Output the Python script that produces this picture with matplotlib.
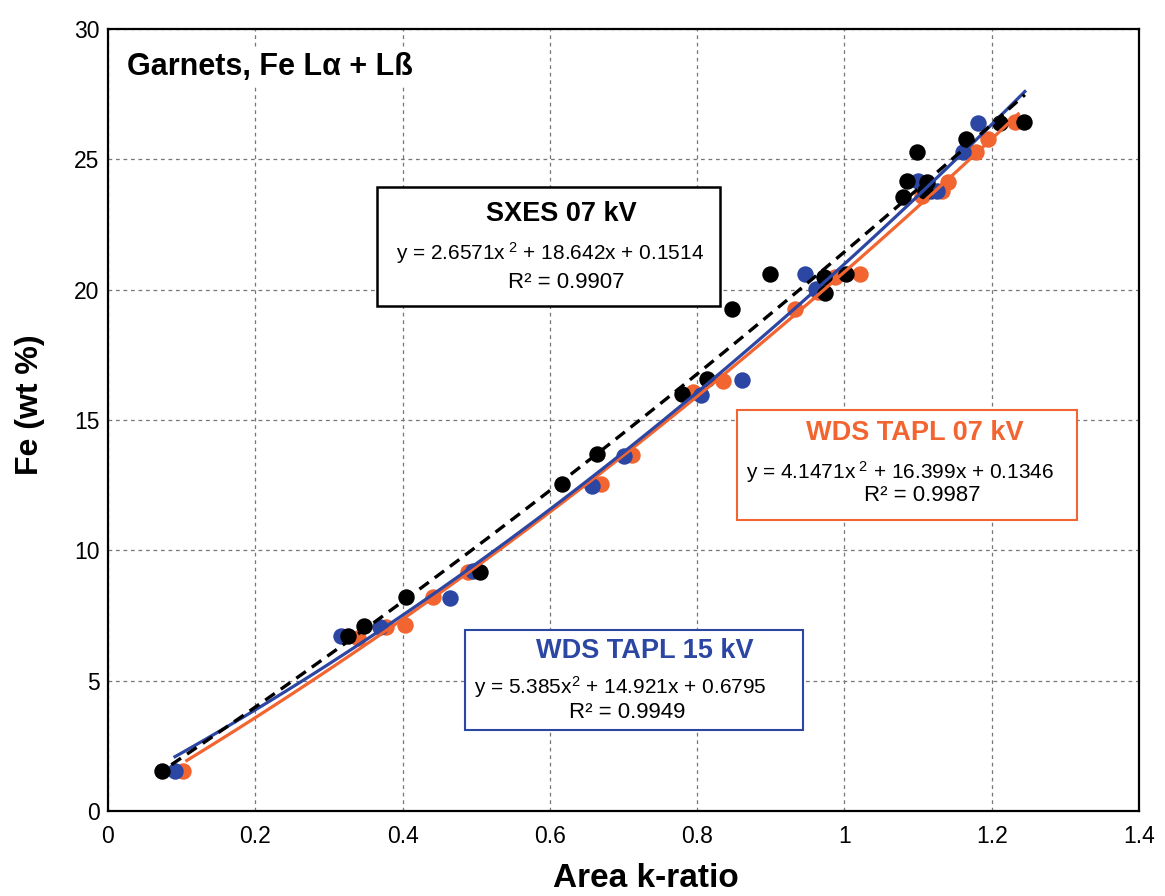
import matplotlib
matplotlib.use("Agg")
import matplotlib.pyplot as plt
import numpy as np
from matplotlib.patches import Rectangle

plt.rcParams['font.family'] = ['Liberation Sans', 'DejaVu Sans']
plt.rcParams['mathtext.fontset'] = 'custom'
plt.rcParams['mathtext.rm'] = 'Liberation Sans'
plt.rcParams['mathtext.it'] = 'Liberation Sans'

# SXES 07 kV (black)
sxes_k = [0.073, 0.326, 0.347, 0.405, 0.505, 0.616, 0.664, 0.779, 0.813, 0.847, 0.899,
          0.972, 0.974, 1.002, 1.080, 1.085, 1.098, 1.112, 1.109, 1.165, 1.211, 1.244]
sxes_fe = [1.55, 6.70, 7.09, 8.20, 9.15, 12.55, 13.69, 16.00, 16.58, 19.27, 20.60,
           20.50, 19.87, 20.60, 23.56, 24.17, 25.27, 24.14, 23.80, 25.80, 26.40, 26.45]

# WDS TAPL 15 kV (blue)
w15_k = [0.091, 0.317, 0.369, 0.464, 0.496, 0.657, 0.700, 0.805, 0.861, 0.947, 0.962,
         1.100, 1.118, 1.126, 1.161, 1.181]
w15_fe = [1.55, 6.70, 7.05, 8.18, 9.20, 12.47, 13.60, 15.96, 16.55, 20.60, 20.04,
          24.17, 23.80, 23.80, 25.30, 26.40]

# WDS TAPL 07 kV (orange)
w07_k = [0.102, 0.340, 0.378, 0.403, 0.441, 0.489, 0.670, 0.711, 0.794, 0.835, 0.933,
         0.964, 0.987, 1.021, 1.105, 1.132, 1.141, 1.179, 1.195, 1.232]
w07_fe = [1.55, 6.64, 7.05, 7.13, 8.20, 9.18, 12.54, 13.67, 16.06, 16.50, 19.27,
          19.90, 20.50, 20.60, 23.60, 23.80, 24.14, 25.30, 25.80, 26.45]

# trendline coefficients as printed on the chart (x^2, x, const)
sxes_coef = [2.6571, 18.642, 0.1514]
w15_coef = [5.385, 14.921, 0.6795]
w07_coef = [4.1471, 16.399, 0.1346]

c_black = '#000000'
c_blue = '#2c46a3'
c_orange = '#f26430'

fig = plt.figure(figsize=(11.65, 8.96), dpi=100)
ax = fig.add_axes([0.0927, 0.0949, 0.8850, 0.8727])

ax.scatter(w07_k, w07_fe, s=140, color=c_orange, zorder=3, linewidths=0)
ax.scatter(w15_k, w15_fe, s=140, color=c_blue, zorder=3, linewidths=0)
ax.scatter(sxes_k, sxes_fe, s=140, color=c_black, zorder=3, linewidths=0)

xo = np.linspace(0.107, 1.236, 100)
ax.plot(xo, np.polyval(w07_coef, xo), color=c_orange, lw=2.3, zorder=4)
xb = np.linspace(0.091, 1.245, 100)
ax.plot(xb, np.polyval(w15_coef, xb), color=c_blue, lw=2.3, zorder=4)
xs = np.linspace(0.086, 1.245, 100)
ax.plot(xs, np.polyval(sxes_coef, xs), color=c_black, lw=2.4, ls=(0, (3.5, 2.2)), zorder=5)

ax.set_xlim(0, 1.4)
ax.set_ylim(0, 30)
ax.set_xticks(np.arange(0, 1.41, 0.2))
ax.set_xticklabels(['0', '0.2', '0.4', '0.6', '0.8', '1', '1.2', '1.4'])
ax.set_yticks(np.arange(0, 31, 5))
ax.tick_params(axis='both', length=0, labelsize=16.5)
ax.tick_params(axis='x', pad=10)
ax.tick_params(axis='y', pad=6)
ax.grid(True, color='#777777', ls=(0, (3, 3)), lw=0.9)
for sp in ax.spines.values():
    sp.set_linewidth(1.6)

ax.set_xlabel('Area k-ratio', fontsize=24, fontweight='bold', va='baseline')
ax.xaxis.set_label_coords(0.522, -0.0975)
ax.set_ylabel('Fe (wt %)', fontsize=23, fontweight='bold')
ax.yaxis.set_label_coords(-0.061, 0.52)

ax.text(0.018, 0.951, 'Garnets, Fe Lα + Lß', transform=ax.transAxes, fontsize=22,
        fontweight='bold', va='center', ha='left', zorder=6,
        bbox=dict(facecolor='white', edgecolor='none', pad=3))

# equation boxes
boxes = [
    dict(x0=0.261, x1=0.594, y0=0.646, y1=0.798, ec=c_black, lw=1.8,
         title='SXES 07 kV', tc=c_black, tx=0.440, ty=0.764,
         eq=r'y = 2.6571x$^{\ 2}$ + 18.642x + 0.1514', ex=0.429, ey=0.714,
         r2='R² = 0.9907', rx=0.444, ry=0.676),
    dict(x0=0.610, x1=0.940, y0=0.372, y1=0.513, ec=c_orange, lw=1.5,
         title='WDS TAPL 07 kV', tc=c_orange, tx=0.783, ty=0.483,
         eq=r'y = 4.1471x$^{\ 2}$ + 16.399x + 0.1346', ex=0.768, ey=0.434,
         r2='R² = 0.9987', rx=0.790, ry=0.403),
    dict(x0=0.346, x1=0.674, y0=0.104, y1=0.231, ec=c_blue, lw=1.5,
         title='WDS TAPL 15 kV', tc=c_blue, tx=0.521, ty=0.205,
         eq=r'y = 5.385x$^{2}$ + 14.921x + 0.6795', ex=0.497, ey=0.159,
         r2='R² = 0.9949', rx=0.504, ry=0.126),
]
for b in boxes:
    ax.add_patch(Rectangle((b['x0'], b['y0']), b['x1'] - b['x0'], b['y1'] - b['y0'],
                           transform=ax.transAxes, facecolor='white',
                           edgecolor=b['ec'], lw=b['lw'], zorder=6))
    ax.text(b['tx'], b['ty'], b['title'], transform=ax.transAxes, color=b['tc'],
            fontsize=19.5, fontweight='bold', ha='center', va='center', zorder=7)
    ax.text(b['ex'], b['ey'], b['eq'], transform=ax.transAxes, fontsize=15,
            ha='center', va='center', zorder=7)
    ax.text(b['rx'], b['ry'], b['r2'], transform=ax.transAxes, fontsize=16,
            ha='center', va='center', zorder=7)

fig.savefig('out.png', dpi=100)
